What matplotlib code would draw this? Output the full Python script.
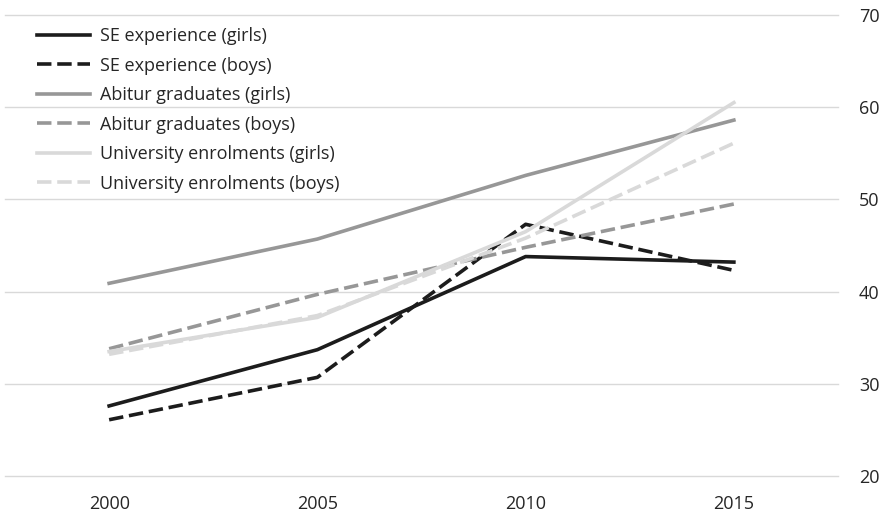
import numpy as np
import matplotlib.pyplot as plt
import matplotlib as mpl

mpl.rcParams.update({'font.size': 13, 'font.family': ['Open Sans', 'DejaVu Sans']})

years = [2000, 2005, 2010, 2015]
se_girls = [27.6, 33.7, 43.8, 43.2]
se_boys = [26.1, 30.7, 47.3, 42.3]
abitur_girls = [40.9, 45.7, 52.6, 58.6]
abitur_boys = [33.8, 39.7, 44.8, 49.5]
uni_girls = [33.5, 37.2, 46.5, 60.5]
uni_boys = [33.2, 37.4, 45.8, 56.1]

labels = [
    'SE experience (girls)', 'SE experience (boys)',
    'Abitur graduates (girls)', 'Abitur graduates (boys)',
    'University enrolments (girls)', 'University enrolments (boys)']
series = [se_girls, se_boys, abitur_girls, abitur_boys, uni_girls, uni_boys]
colors = ['#1c1c1c', '#1c1c1c', '#979797', '#979797', '#d9d9d9', '#d9d9d9']
styles = ['-', '--', '-', '--', '-', '--']

fig = plt.figure(figsize=(8.82, 5.12), dpi=100)
ax = fig.add_axes([5 / 882, 1 - 476 / 512, 833 / 882, 461 / 512])

for vals, lab, c, ls in zip(series, labels, colors, styles):
    line, = ax.plot(years, vals, color=c, linewidth=2.6, label=lab)
    if ls == '--':
        line.set_dashes((4.0, 1.6))

ax.set_xlim(1997.5, 2017.5)
ax.set_ylim(20, 70)
ax.set_xticks(years)
ax.set_yticks([20, 30, 40, 50, 60, 70])
ax.yaxis.tick_right()
ax.grid(axis='y', color='#d9d9d9', linewidth=1)
for gl in ax.yaxis.get_gridlines():
    gl.set_clip_on(False)
ax.set_axisbelow(True)
for s in ax.spines.values():
    s.set_visible(False)
ax.tick_params(axis='both', length=0, labelsize=13, colors='#262626')
ax.tick_params(axis='y', pad=15)
ax.tick_params(axis='x', pad=14)

leg = ax.legend(loc='upper left', bbox_to_anchor=(37 / 882, 1 - 27 / 512),
                bbox_transform=fig.transFigure, frameon=False,
                handlelength=2.95, handletextpad=0.55, labelspacing=0.64,
                borderaxespad=0, borderpad=0, fontsize=13)
for t in leg.get_texts():
    t.set_color('#262626')

fig.savefig('out.png', dpi=100)
